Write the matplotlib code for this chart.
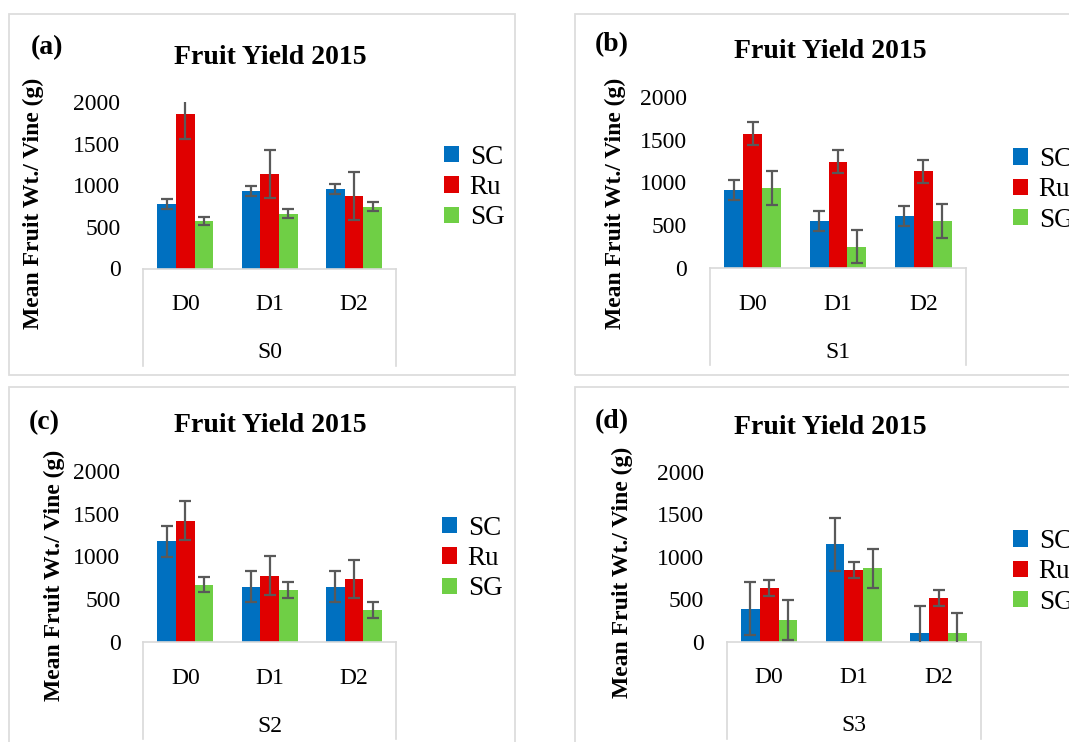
import matplotlib
matplotlib.use("Agg")
import matplotlib.pyplot as plt
from matplotlib.patches import Patch, Rectangle
from matplotlib.lines import Line2D
import numpy as np

plt.rcParams['font.family'] = ['Liberation Serif', 'DejaVu Serif']

# ---------------- data ----------------
doses = ["D0", "D1", "D2"]
series = ["SC", "Ru", "SG"]
groups = ["S0", "S1", "S2", "S3"]
panel_letters = ["(a)", "(b)", "(c)", "(d)"]
title = "Fruit Yield 2015"
ylabel = "Mean Fruit Wt./ Vine (g)"
yticks = [0, 500, 1000, 1500, 2000]

sc_s0 = [775, 934, 954]
ru_s0 = [1850, 1139, 873]
sg_s0 = [571, 660, 742]
sc_s0_err = [58, 60, 56]
ru_s0_err = [294, 290, 290]
sg_s0_err = [50, 54, 52]

sc_s1 = [914, 547, 609]
ru_s1 = [1570, 1242, 1129]
sg_s1 = [937, 254, 555]
sc_s1_err = [117, 117, 117]
ru_s1_err = [133, 133, 135]
sg_s1_err = [197, 197, 200]

sc_s2 = [1180, 648, 645]
ru_s2 = [1421, 777, 734]
sg_s2 = [672, 613, 373]
sc_s2_err = [182, 180, 180]
ru_s2_err = [225, 225, 225]
sg_s2_err = [93, 93, 93]

sc_s3 = [388, 1145, 101]
ru_s3 = [629, 843, 513]
sg_s3 = [252, 862, 101]
sc_s3_err = [315, 315, 315]
ru_s3_err = [97, 97, 97]
sg_s3_err = [235, 233, 237]

colors = ["#0070C0", "#E00000", "#6FCF45"]

# ---------------- layout (pixels) ----------------
W, H = 1069, 742
fig = plt.figure(figsize=(W / 100, H / 100), dpi=100)

def fx(x):
    return x / W

def fy(y):
    return 1 - y / H

panel_specs = [
    dict(ax=(143.3, 396, 268.5, 102), box=(9, 14, 515, 375), title=(270, 57), letter=(47, 48),
         ylab=(33, 203), leg=(444, 187.5), vals=(sc_s0, ru_s0, sg_s0), errs=(sc_s0_err, ru_s0_err, sg_s0_err)),
    dict(ax=(710, 966, 268.3, 96.7), box=(575, 14, 1090, 375), title=(830, 52), letter=(612, 45),
         ylab=(615, 203), leg=(1013, 190), vals=(sc_s1, ru_s1, sg_s1), errs=(sc_s1_err, ru_s1_err, sg_s1_err)),
    dict(ax=(143.3, 396, 642, 471), box=(9, 387, 515, 760), title=(270, 425), letter=(44, 423),
         ylab=(54, 575), leg=(442, 558.5), vals=(sc_s2, ru_s2, sg_s2), errs=(sc_s2_err, ru_s2_err, sg_s2_err)),
    dict(ax=(726.7, 981, 641.7, 471.7), box=(575, 387, 1090, 760), title=(830, 427), letter=(612, 422),
         ylab=(622, 572), leg=(1013, 572), vals=(sc_s3, ru_s3, sg_s3), errs=(sc_s3_err, ru_s3_err, sg_s3_err)),
]

grid_gray = "#D9D9D9"
err_gray = "#595959"
bar_w = 1 / 4.5

for k, spec in enumerate(panel_specs):
    bl, bt, br, bb = spec["box"]
    fig.patches.append(Rectangle((fx(bl), fy(bb)), (br - bl) / W, (bb - bt) / H,
                                 transform=fig.transFigure, fill=False,
                                 edgecolor="#DDDDDD", linewidth=1.3, zorder=0))

    l, r, b, t = spec["ax"]
    ax = fig.add_axes([fx(l), fy(b), (r - l) / W, (b - t) / H])
    x = np.arange(len(doses))
    for j, (vals, errs) in enumerate(zip(spec["vals"], spec["errs"])):
        pos = x + (j - 1) * bar_w
        ax.bar(pos, vals, width=bar_w, color=colors[j], label=series[j], zorder=2)
        ax.errorbar(pos, vals, yerr=errs, fmt="none", ecolor=err_gray, elinewidth=1.6,
                    capsize=4.2, capthick=1.6, zorder=3)
    ax.set_xlim(-0.5, 2.5)
    ax.set_ylim(0, 2000)
    ax.set_yticks(yticks)
    ax.set_yticklabels([str(v) for v in yticks], fontsize=17)
    ax.tick_params(axis="y", length=0, pad=16.5)
    ax.set_xticks([])
    for s in ["top", "right", "left"]:
        ax.spines[s].set_visible(False)
    ax.spines["bottom"].set_color(grid_gray)
    ax.spines["bottom"].set_linewidth(1.2)

    drop = 97 / (b - t)
    for xa in (0, 1):
        ax.add_line(Line2D([xa, xa], [0, -drop], transform=ax.transAxes, color=grid_gray,
                           linewidth=1.2, clip_on=False))
    for i, d in enumerate(doses):
        ax.annotate(d, xy=(i, 0), xycoords=("data", "axes fraction"), xytext=(0, -41.5 * 0.72),
                    textcoords="offset points", ha="center", va="baseline", fontsize=17)
    ax.annotate(groups[k], xy=(1, 0), xycoords=("data", "axes fraction"), xytext=(0, -89.5 * 0.72),
                textcoords="offset points", ha="center", va="baseline", fontsize=17)

    fig.text(fx(spec["title"][0]), fy(spec["title"][1]), title, ha="center", va="center",
             fontsize=20, fontweight="bold")
    fig.text(fx(spec["letter"][0]), fy(spec["letter"][1]), panel_letters[k], ha="center", va="center",
             fontsize=20, fontweight="bold")
    fig.text(fx(spec["ylab"][0]), fy(spec["ylab"][1]), ylabel, ha="center", va="center",
             rotation=90, fontsize=17, fontweight="bold")

    handles = [Patch(facecolor=c, edgecolor="none") for c in colors]
    ax.legend(handles, series, loc="center left",
              bbox_to_anchor=(fx(spec["leg"][0]), fy(spec["leg"][1])),
              bbox_transform=fig.transFigure, frameon=False, fontsize=19.5,
              handlelength=0.55, handleheight=0.55, handletextpad=0.4,
              labelspacing=0.2, borderpad=0, borderaxespad=0)

fig.savefig("out.png", dpi=100)
